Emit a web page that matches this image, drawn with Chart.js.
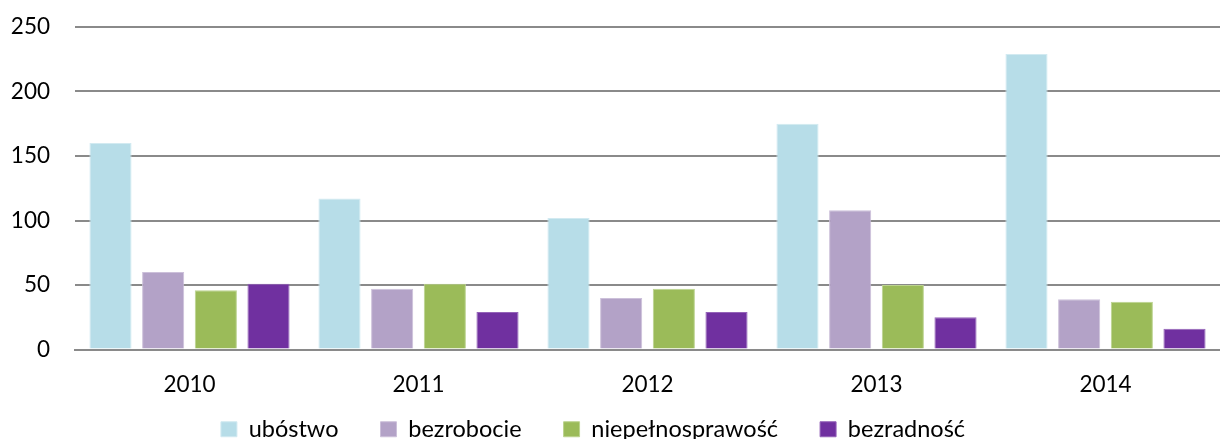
<!DOCTYPE html>
<html>
<head>
<meta charset="utf-8">
<script src="https://cdn.jsdelivr.net/npm/chart.js@4"></script>
<style>
  html, body { margin: 0; padding: 0; background: #fff; }
  #wrap { width: 1220px; height: 439px; }
</style>
</head>
<body>
<div id="wrap"><canvas id="chart"></canvas></div>
<script>
const years = ['2010', '2011', '2012', '2013', '2014'];
const ubostwo = [160, 117, 102, 175, 229];
const bezrobocie = [60, 47, 40, 108, 39];
const niepelnosprawnosc = [46, 51, 47, 50, 37];
const bezradnosc = [51, 29, 29, 25, 16];
const yTicks = [0, 50, 100, 150, 200, 250];

const gridGray = '#8a8a8a';
const tickFont = { family: 'Lato', size: 22.5 };
const legendFont = { family: 'Lato', size: 23.5 };

// pull the legend up closer to the year labels and a bit to the left
const legendShift = {
  id: 'legendShift',
  afterLayout(chart) {
    const lg = chart.legend;
    const dy = lg.top - (chart.chartArea.bottom + 26);
    lg.top -= dy;
    lg.bottom -= dy;
    lg.left -= 17;
    lg.right -= 17;
  },
};

new Chart(document.getElementById('chart'), {
  type: 'bar',
  data: {
    labels: years,
    datasets: [
      { label: 'ubóstwo', data: ubostwo, backgroundColor: '#B7DDE8', borderColor: '#D2EAF1', borderWidth: 1 },
      { label: 'bezrobocie', data: bezrobocie, backgroundColor: '#B3A2C7', borderColor: '#CCC0DA', borderWidth: 1 },
      { label: 'niepełnosprawość', data: niepelnosprawnosc, backgroundColor: '#9BBB59', borderColor: '#BCD38F', borderWidth: 1 },
      { label: 'bezradność', data: bezradnosc, backgroundColor: '#7030A0', borderColor: '#9463B8', borderWidth: 1 },
    ],
  },
  options: {
    animation: false,
    maintainAspectRatio: false,
    layout: { padding: { top: 27, right: 0, left: 0, bottom: -35 } },
    datasets: {
      bar: { categoryPercentage: 0.92, barPercentage: 0.8 },
    },
    scales: {
      x: {
        grid: { display: false },
        border: { display: true, color: gridGray, width: 2 },
        ticks: { color: '#000', font: tickFont, padding: 14 },
        afterFit: (scale) => { scale.height = 49; },
      },
      y: {
        min: 0,
        max: 250,
        afterBuildTicks: (axis) => { axis.ticks = yTicks.map((v) => ({ value: v })); },
        afterFit: (scale) => {
          scale.width = 75;
          scale.paddingTop = 0;
          scale.paddingBottom = 0;
        },
        grid: { color: gridGray, lineWidth: 2, drawTicks: false },
        border: { display: false },
        ticks: { color: '#000', font: tickFont, padding: 25 },
      },
    },
    plugins: {
      legend: {
        position: 'bottom',
        labels: {
          color: '#000',
          font: legendFont,
          boxWidth: 16,
          boxHeight: 15,
          padding: 42,
        },
      },
      tooltip: { enabled: false },
    },
  },
  plugins: [legendShift],
});
</script>
</body>
</html>
